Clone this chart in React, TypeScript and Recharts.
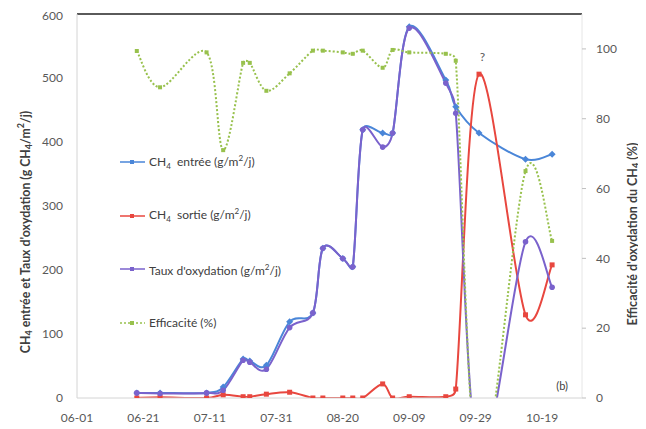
import React from 'react';
import { ComposedChart, Line, XAxis, YAxis, Legend, ReferenceLine, ReferenceDot } from 'recharts';

// ---- data ----
const dates = ['06-19', '06-26', '07-10', '07-15', '07-21', '07-23', '07-28', '08-04', '08-11', '08-14', '08-20', '08-23', '08-26', '09-01', '09-04', '09-09', '09-20', '09-23', '09-30', '10-14', '10-22'];
const ch4Entree = [8, 8, 8, 17, 61, 58, 51, 119, 133, 234, 218, 205, 419, 414, 414, 580, 497, 455, 414, 373, 381];
const ch4Sortie = [0, 1, 0, 5, 2, 2, 6, 9, 0, 0, 0, 0, 0, 22, 0, 2, 2, 14, 506, 130, 208];
const tauxOxydation = [8, 7, 8, 12, 59, 56, 45, 110, 133, 234, 218, 205, 419, 392, 414, 578, 492, 445, -92, 244, 173];
const efficacite = [99.4, 89, 99, 71, 96, 96, 88, 93, 99.5, 99.5, 99, 98.6, 99.5, 94.6, 99.7, 99, 98.6, 96.6, -22, 65, 45];

const xTickLabels = ['06-01', '06-21', '07-11', '07-31', '08-20', '09-09', '09-29', '10-19'];
const leftTicks = [0, 100, 200, 300, 400, 500, 600];
const rightTicks = [0, 20, 40, 60, 80, 100];

const monthStart: Record<number, number> = { 6: 0, 7: 30, 8: 61, 9: 92, 10: 122, 11: 153 };
const toDay = (s: string) => {
  const [m, d] = s.split('-').map(Number);
  return monthStart[m] + d - 1;
};
const xTicks = xTickLabels.map(toDay);

const data = dates.map((d, i) => ({
  day: toDay(d),
  entree: ch4Entree[i],
  sortie: ch4Sortie[i],
  taux: tauxOxydation[i],
  eff: efficacite[i],
}));

const C_BLUE = '#4a86d8';
const C_RED = '#e8473f';
const C_PURPLE = '#7a62cc';
const C_GREEN = '#98c14d';
const FONT = 'Lato, "Open Sans", sans-serif';

// Excel-like smoothed line: Catmull-Rom bezier, control arms clamped to half the segment length
function excelCurve(context: any) {
  let pts: number[][] = [];
  const dist = (a: number[], b: number[]) => Math.hypot(b[0] - a[0], b[1] - a[1]);
  return {
    areaStart() {},
    areaEnd() {},
    lineStart() {
      pts = [];
    },
    lineEnd() {
      const n = pts.length;
      if (!n) return;
      context.moveTo(pts[0][0], pts[0][1]);
      for (let i = 0; i < n - 1; i++) {
        const p0 = pts[i - 1] || pts[i];
        const p1 = pts[i];
        const p2 = pts[i + 1];
        const p3 = pts[i + 2] || p2;
        const d12 = dist(p1, p2);
        const maxArm = d12 * 0.5;
        let t1x = (p2[0] - p0[0]) / 6;
        let t1y = (p2[1] - p0[1]) / 6;
        let t2x = (p3[0] - p1[0]) / 6;
        let t2y = (p3[1] - p1[1]) / 6;
        const l1 = Math.hypot(t1x, t1y);
        const l2 = Math.hypot(t2x, t2y);
        if (l1 > maxArm && l1 > 0) {
          t1x *= maxArm / l1;
          t1y *= maxArm / l1;
        }
        if (l2 > maxArm && l2 > 0) {
          t2x *= maxArm / l2;
          t2y *= maxArm / l2;
        }
        context.bezierCurveTo(p1[0] + t1x, p1[1] + t1y, p2[0] - t2x, p2[1] - t2y, p2[0], p2[1]);
      }
    },
    point(x: number, y: number) {
      pts.push([+x, +y]);
    },
  };
}

const diamond = (color: string) => (p: any) => {
  const { cx, cy, index } = p;
  if (cx == null || cy == null) return <g key={`d${index}`} />;
  return <path key={`d${index}`} d={`M${cx},${cy - 3.5}L${cx + 3.5},${cy}L${cx},${cy + 3.5}L${cx - 3.5},${cy}Z`} fill={color} />;
};
const square = (color: string, s: number) => (p: any) => {
  const { cx, cy, index } = p;
  if (cx == null || cy == null) return <g key={`s${index}`} />;
  return <rect key={`s${index}`} x={cx - s / 2} y={cy - s / 2} width={s} height={s} fill={color} />;
};
const circle = (color: string) => (p: any) => {
  const { cx, cy, index } = p;
  if (cx == null || cy == null) return <g key={`c${index}`} />;
  return <circle key={`c${index}`} cx={cx} cy={cy} r={2.8} fill={color} />;
};

const legendItems = [
  { key: 'entree', color: C_BLUE, dash: undefined, label: <>CH<sub style={{ fontSize: 8 }}>4</sub>&nbsp; entrée (g/m<sup style={{ fontSize: 8 }}>2</sup>/j)</> },
  { key: 'sortie', color: C_RED, dash: undefined, label: <>CH<sub style={{ fontSize: 8 }}>4</sub>&nbsp; sortie (g/m<sup style={{ fontSize: 8 }}>2</sup>/j)</> },
  { key: 'taux', color: C_PURPLE, dash: undefined, label: <>Taux d'oxydation (g/m<sup style={{ fontSize: 8 }}>2</sup>/j)</> },
  { key: 'eff', color: C_GREEN, dash: '2 2', label: <>Efficacité (%)</> },
];

const renderLegend = () => (
  <div style={{ fontFamily: FONT, fontSize: 12, color: '#404040' }}>
    {legendItems.map((it) => (
      <div key={it.key} style={{ height: 53.7, display: 'flex', alignItems: 'center' }}>
        <svg width={27} height={10} style={{ marginRight: 2 }}>
          <line x1={0} y1={5} x2={25} y2={5} stroke={it.color} strokeWidth={1.5} strokeDasharray={it.dash} />
          <rect x={10} y={3} width={4} height={4} fill={it.color} />
        </svg>
        <span style={{ whiteSpace: 'nowrap', lineHeight: '14px' }}>{it.label}</span>
      </div>
    ))}
  </div>
);

const LeftTitle = () => (
  <text x={17} y={224} transform="rotate(-90 17 224)" textAnchor="middle" dominantBaseline="central" fontSize={12.3} fontWeight={700} fill="#404040" fontFamily={FONT}>
    CH<tspan fontSize={9} dy={3}>4</tspan>
    <tspan dy={-3}>{' entrée et Taux d\'oxydation  (g CH'}</tspan>
    <tspan fontSize={9} dy={3}>4</tspan>
    <tspan dy={-3}>/m</tspan>
    <tspan fontSize={9} dy={-5}>2</tspan>
    <tspan dy={5}>/j)</tspan>
  </text>
);

const RightTitle = () => (
  <text x={624} y={226} transform="rotate(-90 624 226)" textAnchor="middle" dominantBaseline="central" fontSize={12.5} fontWeight={700} fill="#404040" fontFamily={FONT}>
    {'Efficacité d\'oxydation du CH'}
    <tspan fontSize={9} dy={3}>4</tspan>
    <tspan dy={-3}>{' (%)'}</tspan>
  </text>
);

const tickStyle = { fill: '#595959', fontSize: 12, fontFamily: FONT };

export default function App() {
  return (
    <div style={{ fontFamily: FONT }}>
      <ComposedChart width={638} height={421} data={data} margin={{ top: 6, right: 0, bottom: 0, left: 0 }}>
        <XAxis
          type="number"
          dataKey="day"
          domain={[0, 152]}
          ticks={xTicks}
          tickFormatter={(v: number) => xTickLabels[xTicks.indexOf(v)] ?? ''}
          height={31}
          tickLine={false}
          tickSize={6}
          tickMargin={9}
          axisLine={{ stroke: '#d4d4d4' }}
          tick={tickStyle}
        />
        <YAxis
          yAxisId="left"
          domain={[0, 600]}
          ticks={leftTicks}
          allowDataOverflow
          width={69}
          tickLine={false}
          tickSize={6}
          tickMargin={8}
          axisLine={{ stroke: '#d4d4d4' }}
          tick={tickStyle}
          label={() => <LeftTitle />}
        />
        <YAxis
          yAxisId="right"
          orientation="right"
          domain={[0, 110]}
          ticks={rightTicks}
          allowDataOverflow
          width={64}
          tickSize={4}
          tickMargin={10}
          tickLine={{ stroke: '#bfbfbf' }}
          axisLine={{ stroke: '#e6e6e6' }}
          tick={tickStyle}
          label={() => <RightTitle />}
        />
        <ReferenceLine yAxisId="left" y={600} stroke="#5a5a5a" strokeWidth={2} />
        <Legend layout="vertical" align="center" verticalAlign="middle" content={renderLegend} wrapperStyle={{ left: 112, top: 127, width: 230, height: 216 }} />
        <Line yAxisId="left" dataKey="entree" type={excelCurve as any} stroke={C_BLUE} strokeWidth={2} dot={diamond(C_BLUE)} activeDot={false} isAnimationActive={false} />
        <Line yAxisId="left" dataKey="sortie" type={excelCurve as any} stroke={C_RED} strokeWidth={2} dot={square(C_RED, 5)} activeDot={false} isAnimationActive={false} />
        <Line yAxisId="left" dataKey="taux" type={excelCurve as any} stroke={C_PURPLE} strokeWidth={2} dot={circle(C_PURPLE)} activeDot={false} isAnimationActive={false} />
        <Line yAxisId="right" dataKey="eff" type={excelCurve as any} stroke={C_GREEN} strokeWidth={2} strokeDasharray="2 2" dot={square(C_GREEN, 4)} activeDot={false} isAnimationActive={false} />
        <ReferenceDot
          yAxisId="left"
          x={122}
          y={533}
          shape={(p: any) => (
            <text x={p.cx} y={p.cy} textAnchor="middle" dominantBaseline="central" fontSize={12} fill="#595959" fontFamily={FONT}>?</text>
          )}
        />
        <ReferenceDot
          yAxisId="left"
          x={146}
          y={20}
          shape={(p: any) => (
            <text x={p.cx} y={p.cy} textAnchor="middle" dominantBaseline="central" fontSize={11} fill="#404040" fontFamily={FONT}>(b)</text>
          )}
        />
      </ComposedChart>
    </div>
  );
}
